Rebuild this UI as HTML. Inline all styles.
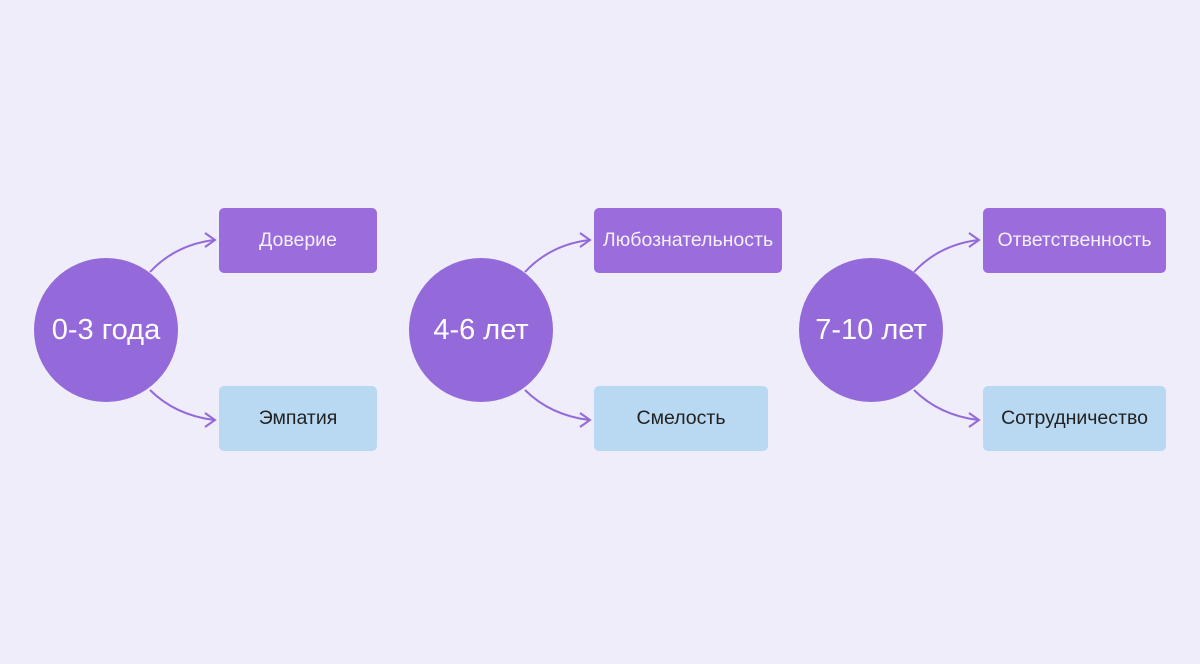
<!DOCTYPE html>
<html><head><meta charset="utf-8"><style>
body{margin:0;width:1200px;height:664px;background:#eeedf9;font-family:"Liberation Sans",sans-serif;position:relative;overflow:hidden}
.c{position:absolute;width:144px;height:144px;border-radius:50%;background:#9469d9;color:#fff;font-size:29px;display:flex;align-items:center;justify-content:center}
.b{position:absolute;height:65px;border-radius:5px;display:flex;align-items:center;justify-content:center;font-size:19.5px}
.p{background:#9a6cdc;color:#f4f0fb}
.l{background:#b9d9f3;color:#222}
svg{position:absolute;left:0;top:0}
</style></head><body>
<svg width="1200" height="664" fill="none" stroke="#9469d9" stroke-width="2">
<g id="a">
<path d="M150 272 Q175 245 214 240"/><path d="M205 233 L215 240 L205 247"/>
<path d="M150 390 Q175 415 214 420"/><path d="M205 413 L215 420 L205 427"/>
</g>
<use href="#a" x="375"/>
<use href="#a" x="764"/>
</svg>
<div class="c" style="left:34px;top:258px">0-3 года</div>
<div class="c" style="left:409px;top:258px">4-6 лет</div>
<div class="c" style="left:799px;top:258px">7-10 лет</div>
<div class="b p" style="left:219px;top:208px;width:158px">Доверие</div>
<div class="b l" style="left:219px;top:386px;width:158px">Эмпатия</div>
<div class="b p" style="left:594px;top:208px;width:188px">Любознательность</div>
<div class="b l" style="left:594px;top:386px;width:174px">Смелость</div>
<div class="b p" style="left:983px;top:208px;width:183px">Ответственность</div>
<div class="b l" style="left:983px;top:386px;width:183px">Сотрудничество</div>
</body></html>
